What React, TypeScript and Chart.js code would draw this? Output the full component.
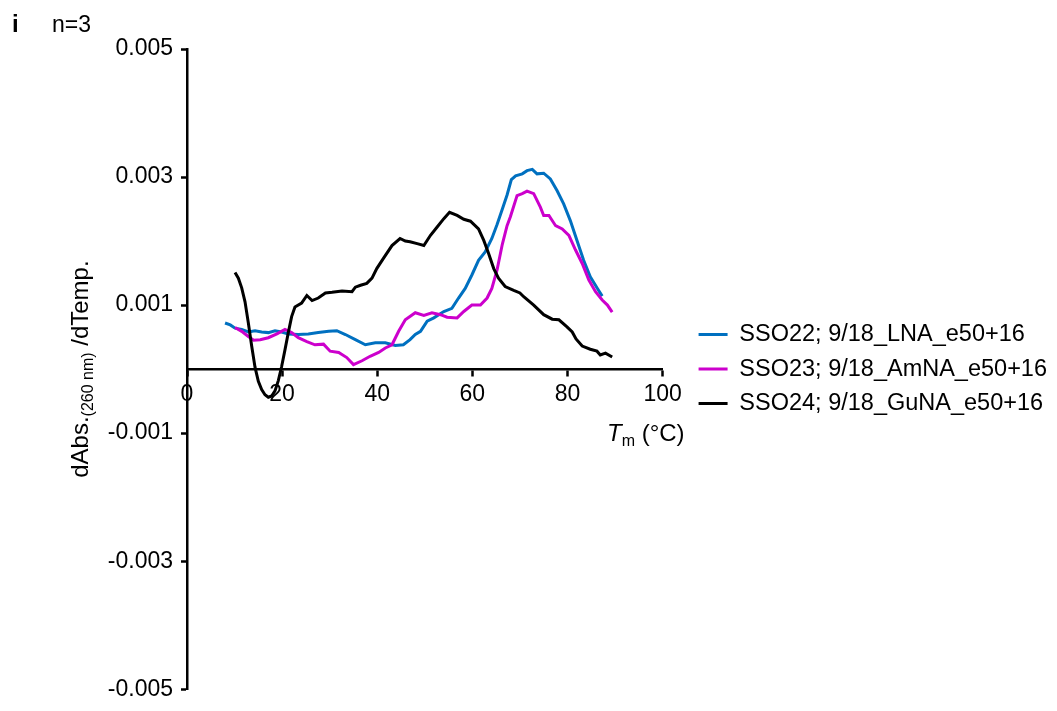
import React, { useEffect, useRef } from 'react';
import { Chart, registerables } from 'chart.js';

Chart.register(...registerables);

// ---- data ----
const lnaT = [8.0, 9.1, 10.1, 11.5, 12.9, 14.3, 15.7, 17.1, 18.5, 19.9, 21.3, 23.4, 25.5, 27.6, 29.8, 31.5, 33.3, 35.4, 37.5, 39.6, 41.7, 43.8, 45.5, 46.9, 48.0, 49.1, 50.5, 51.9, 54.0, 55.7, 57.1, 58.5, 59.9, 61.3, 62.7, 64.1, 65.2, 66.4, 67.3, 68.2, 69.1, 70.5, 71.5, 72.6, 73.6, 75.0, 76.4, 77.8, 79.2, 80.6, 82.0, 83.4, 84.8, 86.3, 87.3];
const lnaV = [0.00072, 0.00069, 0.00064, 0.00062, 0.00058, 0.0006, 0.00058, 0.00057, 0.0006, 0.00058, 0.00055, 0.00054, 0.00055, 0.00057, 0.00059, 0.0006, 0.00054, 0.00046, 0.00038, 0.00041, 0.00041, 0.00037, 0.00038, 0.00046, 0.00054, 0.00059, 0.00075, 0.0008, 0.0009, 0.00095, 0.00111, 0.00126, 0.00147, 0.0017, 0.00183, 0.00204, 0.00226, 0.00252, 0.00272, 0.00296, 0.00302, 0.00305, 0.0031, 0.00312, 0.00305, 0.00306, 0.00297, 0.00279, 0.00258, 0.00232, 0.00201, 0.0017, 0.00144, 0.00126, 0.00114];

const amnaT = [10.1, 11.5, 12.9, 14.0, 15.4, 17.1, 18.9, 20.6, 22.0, 23.4, 25.2, 26.9, 28.7, 30.1, 31.9, 33.6, 35.0, 36.8, 38.5, 40.3, 41.7, 43.1, 44.5, 45.9, 48.0, 49.8, 51.5, 53.3, 54.7, 56.8, 58.2, 59.9, 61.7, 63.1, 64.1, 65.2, 66.3, 67.3, 68.0, 69.4, 70.5, 71.5, 72.9, 74.3, 75.0, 76.1, 77.5, 78.9, 80.3, 81.7, 83.1, 84.5, 85.9, 87.3, 88.4, 89.4];
const amnaV = [0.00065, 0.00059, 0.00051, 0.00045, 0.00046, 0.00049, 0.00055, 0.00062, 0.00057, 0.00049, 0.00043, 0.00038, 0.00039, 0.00028, 0.00026, 0.00018, 0.00007, 0.00013, 0.0002, 0.00026, 0.00033, 0.00038, 0.00059, 0.00077, 0.00088, 0.00084, 0.00088, 0.00085, 0.00081, 0.0008, 0.0009, 0.001, 0.001, 0.00111, 0.00126, 0.00155, 0.00195, 0.00224, 0.00238, 0.00271, 0.00274, 0.00278, 0.00274, 0.00253, 0.0024, 0.0024, 0.00224, 0.00219, 0.00209, 0.00186, 0.00165, 0.00139, 0.00121, 0.00108, 0.001, 0.00089];

const gunaT = [10.1, 10.8, 11.5, 12.2, 12.9, 13.6, 14.3, 15.0, 15.7, 16.4, 17.1, 17.8, 18.5, 19.2, 19.9, 20.6, 21.3, 22.0, 22.7, 24.1, 25.2, 26.3, 27.6, 29.1, 30.5, 32.6, 34.7, 35.4, 36.5, 37.8, 38.9, 39.9, 41.3, 43.1, 44.8, 45.9, 46.9, 48.4, 49.8, 51.2, 52.6, 54.0, 55.2, 56.8, 58.2, 59.6, 61.3, 62.4, 63.4, 64.5, 65.5, 66.9, 68.7, 70.0, 70.8, 72.9, 75.0, 76.8, 78.2, 79.9, 81.0, 81.8, 83.1, 84.8, 86.2, 86.9, 88.0, 89.4];
const gunaV = [0.00151, 0.00142, 0.00127, 0.00105, 0.00072, 0.00036, 0.00003, -0.00019, -0.00032, -0.0004, -0.00044, -0.00042, -0.00034, -0.00018, 0.00004, 0.0003, 0.00057, 0.00082, 0.00097, 0.00103, 0.00115, 0.00107, 0.00111, 0.00119, 0.0012, 0.00122, 0.00121, 0.00128, 0.00131, 0.00134, 0.00142, 0.00157, 0.00173, 0.00193, 0.00204, 0.002, 0.00199, 0.00196, 0.00193, 0.00209, 0.00222, 0.00235, 0.00245, 0.0024, 0.00234, 0.00231, 0.00219, 0.00201, 0.00181, 0.00157, 0.00142, 0.00129, 0.00123, 0.00119, 0.00113, 0.001, 0.00085, 0.00078, 0.00077, 0.00066, 0.00058, 0.00047, 0.00036, 0.00031, 0.00028, 0.00022, 0.00025, 0.00019];

const seriesLabels = ['SSO22; 9/18_LNA_e50+16', 'SSO23; 9/18_AmNA_e50+16', 'SSO24; 9/18_GuNA_e50+16'];
const seriesColors = ['#0070C0', '#CC00CC', '#000000'];

const xTickValues = [0, 20, 40, 60, 80, 100];
const yTickValues = [-0.005, -0.003, -0.001, 0.001, 0.003, 0.005];
const yTickLabels = ['-0.005', '-0.003', '-0.001', '0.001', '0.003', '0.005'];

const panelLetter = 'i';
const panelNote = 'n=3';
const yTitleMain1 = 'dAbs.';
const yTitleSub = '(260 nm)';
const yTitleMain2 = ' /dTemp.';
const xTitleMain = 'T';
const xTitleSub = 'm';
const xTitleRest = ' (°C)';

const FONT = '"Liberation Sans", Arial, sans-serif';
const LEGEND_FONT_SIZE = 23.5;
const LEGEND_BOX_W = 29;
const LEGEND_PAD = 11;

const toPoints = (t: number[], v: number[]) => t.map((x, i) => ({ x, y: v[i] }));

const titlesPlugin = {
  id: 'titlesPlugin',
  afterDraw(chart: any) {
    const ctx = chart.ctx as CanvasRenderingContext2D;
    const area = chart.chartArea;
    const yZero = chart.scales.y.getPixelForValue(0);
    ctx.save();
    ctx.fillStyle = '#000';
    ctx.textBaseline = 'alphabetic';
    ctx.textAlign = 'left';

    ctx.font = `bold 24px ${FONT}`;
    ctx.fillText(panelLetter, 12, 32);
    ctx.font = `23px ${FONT}`;
    ctx.fillText(panelNote, 52, 32);

    const mainX = `24px ${FONT}`;
    const italX = `italic 24px ${FONT}`;
    const subX = `16px ${FONT}`;
    ctx.font = italX;
    const wT = ctx.measureText(xTitleMain).width;
    ctx.font = subX;
    const wM = ctx.measureText(xTitleSub).width;
    ctx.font = mainX;
    const wR = ctx.measureText(xTitleRest).width;
    const xEnd = area.right + 22;
    let xs = xEnd - (wT + wM + wR);
    const xb = yZero + 72;
    ctx.font = italX;
    ctx.fillText(xTitleMain, xs, xb);
    xs += wT;
    ctx.font = subX;
    ctx.fillText(xTitleSub, xs, xb + 5);
    xs += wM;
    ctx.font = mainX;
    ctx.fillText(xTitleRest, xs, xb);

    const mainY = `24px ${FONT}`;
    const subY = `16px ${FONT}`;
    ctx.font = mainY;
    const w1 = ctx.measureText(yTitleMain1).width;
    const w3 = ctx.measureText(yTitleMain2).width;
    ctx.font = subY;
    const w2 = ctx.measureText(yTitleSub).width;
    const total = w1 + w2 + w3;
    ctx.translate(88, (area.top + area.bottom) / 2);
    ctx.rotate(-Math.PI / 2);
    let p = -total / 2;
    ctx.font = mainY;
    ctx.fillText(yTitleMain1, p, 0);
    p += w1;
    ctx.font = subY;
    ctx.fillText(yTitleSub, p, 5);
    p += w2;
    ctx.font = mainY;
    ctx.fillText(yTitleMain2, p, 0);
    ctx.restore();
  },
};

export default function App() {
  const canvasRef = useRef<HTMLCanvasElement | null>(null);

  useEffect(() => {
    if (!canvasRef.current) return;

    // natural legend width, so the plot area keeps its right edge
    const mctx = document.createElement('canvas').getContext('2d') as CanvasRenderingContext2D;
    mctx.font = `${LEGEND_FONT_SIZE}px ${FONT}`;
    const maxText = Math.max(...seriesLabels.map((s) => mctx.measureText(s).width));
    const legendW = Math.ceil(LEGEND_PAD + LEGEND_BOX_W + LEGEND_FONT_SIZE / 2 + maxText + 10);
    const spacerW = 25;
    const plotRight = 662;
    const padRight = Math.max(0, 1057 - plotRight - spacerW - legendW);

    const datasets = [
      { label: seriesLabels[0], data: toPoints(lnaT, lnaV), borderColor: seriesColors[0], order: 2 },
      { label: seriesLabels[1], data: toPoints(amnaT, amnaV), borderColor: seriesColors[1], order: 1 },
      { label: seriesLabels[2], data: toPoints(gunaT, gunaV), borderColor: seriesColors[2], order: 0 },
    ].map((d) => ({
      ...d,
      backgroundColor: d.borderColor,
      borderWidth: 3,
      pointRadius: 0,
      tension: 0,
      fill: false,
    }));

    const chart = new Chart(canvasRef.current, {
      type: 'line',
      data: { datasets },
      plugins: [titlesPlugin],
      options: {
        responsive: false,
        animation: false,
        events: [],
        layout: { padding: { left: 0, right: padRight, top: 49, bottom: 17 } },
        scales: {
          x: {
            type: 'linear',
            min: 0,
            max: 100,
            position: { y: 0 } as any,
            afterBuildTicks: (s: any) => {
              s.ticks = xTickValues.map((v) => ({ value: v }));
            },
            afterFit: (s: any) => {
              s.height = 0;
            },
            grid: {
              display: true,
              drawOnChartArea: false,
              drawTicks: true,
              tickLength: 6,
              tickWidth: 2.5,
              tickColor: '#000',
              color: '#000',
            },
            border: { display: true, color: '#000', width: 2.5 },
            ticks: {
              color: '#000',
              font: { family: FONT, size: 23 },
              padding: 6,
              maxRotation: 0,
              autoSkip: false,
              callback: (v: any) => String(v),
            },
          },
          y: {
            type: 'linear',
            min: -0.005,
            max: 0.005,
            position: 'left',
            afterBuildTicks: (s: any) => {
              s.ticks = yTickValues.map((v) => ({ value: v }));
            },
            afterFit: (s: any) => {
              s.width = 187;
            },
            grid: {
              display: true,
              drawOnChartArea: false,
              drawTicks: true,
              tickLength: 6,
              tickWidth: 2.5,
              tickColor: '#000',
              color: '#000',
            },
            border: { display: true, color: '#000', width: 2.5 },
            ticks: {
              color: '#000',
              font: { family: FONT, size: 23 },
              padding: 8,
              autoSkip: false,
              callback: (_v: any, i: number) => yTickLabels[i],
            },
          },
          spacer: {
            type: 'linear',
            axis: 'y',
            position: 'right',
            display: true,
            ticks: { display: false },
            grid: { display: false, drawTicks: false },
            border: { display: false },
            afterFit: (s: any) => {
              s.width = spacerW;
            },
          } as any,
        },
        plugins: {
          tooltip: { enabled: false },
          title: { display: false },
          legend: {
            display: true,
            position: 'right',
            align: 'center',
            fullSize: false,
            maxWidth: legendW,
            labels: {
              boxWidth: LEGEND_BOX_W,
              boxHeight: 3,
              padding: LEGEND_PAD,
              color: '#000',
              font: { family: FONT, size: LEGEND_FONT_SIZE },
              generateLabels: (c: any) =>
                c.data.datasets.map((ds: any, i: number) => ({
                  text: ds.label,
                  fillStyle: ds.borderColor,
                  strokeStyle: ds.borderColor,
                  lineWidth: 0,
                  hidden: false,
                  datasetIndex: i,
                  fontColor: '#000',
                })),
            },
          } as any,
        },
      },
    });
    return () => chart.destroy();
  }, []);

  return (
    <div style={{ position: 'fixed', left: 0, top: 0, width: 1057, height: 711, background: '#fff' }}>
      <canvas ref={canvasRef} width={1057} height={711} style={{ display: 'block' }} />
    </div>
  );
}
